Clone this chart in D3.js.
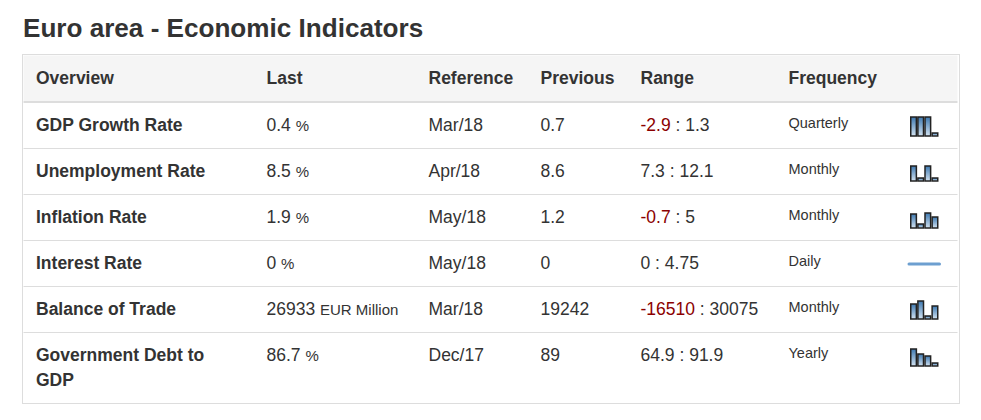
<!DOCTYPE html>
<html>
<head>
<meta charset="utf-8">
<script src="https://cdn.jsdelivr.net/npm/d3@7"></script>
<style>
html, body { margin: 0; padding: 0; background: #fff; }
text { font-family: "Liberation Sans", Arial, sans-serif; fill: #333; }
</style>
</head>
<body>
<div id="chart"></div>
<script>
var title = "Euro area - Economic Indicators";
var headers = ["Overview", "Last", "Reference", "Previous", "Range", "Frequency"];
var names = ["GDP Growth Rate", "Unemployment Rate", "Inflation Rate", "Interest Rate", "Balance of Trade", "Government Debt to GDP"];
var lastValues = ["0.4", "8.5", "1.9", "0", "26933", "86.7"];
var units = ["%", "%", "%", "%", "EUR Million", "%"];
var references = ["Mar/18", "Apr/18", "May/18", "May/18", "Mar/18", "Dec/17"];
var previous = ["0.7", "8.6", "1.2", "0", "19242", "89"];
var rangeLow = ["-2.9", "7.3", "-0.7", "0", "-16510", "64.9"];
var rangeHigh = ["1.3", "12.1", "5", "4.75", "30075", "91.9"];
var frequency = ["Quarterly", "Monthly", "Monthly", "Daily", "Monthly", "Yearly"];
/* sparkline bar heights */
var sparks = [
  [19, 19, 19, 3],
  [15, 3, 15, 3],
  [14, 4, 15, 11],
  [0, 0, 0, 0],
  [15, 18, 3, 13],
  [17, 12, 10, 3]
];

var width = 981, height = 420;
var colX = [36, 266.5, 428.5, 540.5, 640.5, 788.5];
var tableLeft = 22.5, tableRight = 959.5, tableTop = 54.5, tableBottom = 403.5;
var headBottom = 102;
var rowH = 46;

var svg = d3.select("#chart").append("svg")
  .attr("width", width).attr("height", height)
  .style("display", "block");

var defs = svg.append("defs");
var grad = defs.append("linearGradient").attr("id", "barfill")
  .attr("x1", 0).attr("x2", 0).attr("y1", 0).attr("y2", 1);
grad.append("stop").attr("offset", "0%").attr("stop-color", "#3d78b0");
grad.append("stop").attr("offset", "100%").attr("stop-color", "#d3e3f1");

svg.append("text").attr("x", 23).attr("y", 37)
  .attr("font-size", "26.1px").attr("font-weight", "bold").text(title);

/* table frame + header */
svg.append("rect").attr("x", tableLeft).attr("y", tableTop)
  .attr("width", tableRight - tableLeft).attr("height", tableBottom - tableTop)
  .attr("fill", "#fff").attr("stroke", "#ddd");
svg.append("rect").attr("x", tableLeft + 1).attr("y", tableTop + 1)
  .attr("width", tableRight - tableLeft - 3).attr("height", headBottom - tableTop - 2)
  .attr("fill", "#f5f5f5");
svg.append("line").attr("x1", tableLeft + 1).attr("x2", tableRight - 2)
  .attr("y1", headBottom).attr("y2", headBottom)
  .attr("stroke", "#ddd").attr("stroke-width", 2);

svg.selectAll("text.head").data(headers).enter().append("text")
  .attr("class", "head")
  .attr("x", function(d, i){ return colX[i]; })
  .attr("y", 84)
  .attr("font-size", "17.5px").attr("font-weight", "bold")
  .text(function(d){ return d; });

var rowTop = d3.scaleLinear().domain([0, 1]).range([103, 103 + rowH]);

var rows = svg.selectAll("g.row").data(names).enter().append("g")
  .attr("class", "row")
  .attr("transform", function(d, i){ return "translate(0," + rowTop(i) + ")"; });

rows.filter(function(d, i){ return i > 0; }).append("line")
  .attr("x1", tableLeft + 1).attr("x2", tableRight - 2)
  .attr("y1", -0.5).attr("y2", -0.5)
  .attr("stroke", "#ddd");

var base = 28;
rows.each(function(name, i){
  var g = d3.select(this);
  var nameText = g.append("text").attr("x", colX[0]).attr("y", base)
    .attr("font-size", "17.5px").attr("font-weight", "bold");
  if (name.indexOf(" to GDP") > 0) {
    nameText.text("Government Debt to");
    g.append("text").attr("x", colX[0]).attr("y", base + 25)
      .attr("font-size", "17.5px").attr("font-weight", "bold").text("GDP");
  } else {
    nameText.text(name);
  }
  var last = g.append("text").attr("x", colX[1]).attr("y", base).attr("font-size", "17.5px");
  last.append("tspan").text(lastValues[i] + " ");
  last.append("tspan").attr("font-size", "15px").text(units[i]);
  g.append("text").attr("x", colX[2]).attr("y", base).attr("font-size", "17.5px").text(references[i]);
  g.append("text").attr("x", colX[3]).attr("y", base).attr("font-size", "17.5px").text(previous[i]);
  var r = g.append("text").attr("x", colX[4]).attr("y", base).attr("font-size", "17.5px");
  r.append("tspan").style("fill", +rangeLow[i] < 0 ? "#8b0000" : "#333").text(rangeLow[i]);
  r.append("tspan").text(" : " + rangeHigh[i]);
  g.append("text").attr("x", colX[5]).attr("y", base - 3).attr("font-size", "14.5px").text(frequency[i]);
});

/* sparklines */
var sx = d3.scaleBand().domain([0, 1, 2, 3]).range([910, 938.5]);
var sh = d3.scaleLinear().domain([0, 19]).range([0, 19]);
var sparkBottom = [33, 32, 33, 23, 32, 33];
sparks.forEach(function(vals, i){
  var g = svg.append("g").attr("transform", "translate(0," + rowTop(i) + ")");
  if (d3.max(vals) === 0) {
    g.append("line").attr("x1", sx(0) - 1).attr("x2", sx(3) + sx.bandwidth() + 1)
      .attr("y1", sparkBottom[i]).attr("y2", sparkBottom[i])
      .attr("stroke", "#6d9fd0").attr("stroke-width", 3)
      .attr("stroke-linecap", "round");
    return;
  }
  g.selectAll("rect").data(vals).enter().append("rect")
    .attr("x", function(d, j){ return sx(j) + 0.75; })
    .attr("y", function(d){ return sparkBottom[i] - sh(d); })
    .attr("width", sx.bandwidth() - 1.5)
    .attr("height", function(d){ return sh(d); })
    .attr("fill", "url(#barfill)")
    .attr("stroke", "#222").attr("stroke-width", 1.5);
});
</script>
</body>
</html>
